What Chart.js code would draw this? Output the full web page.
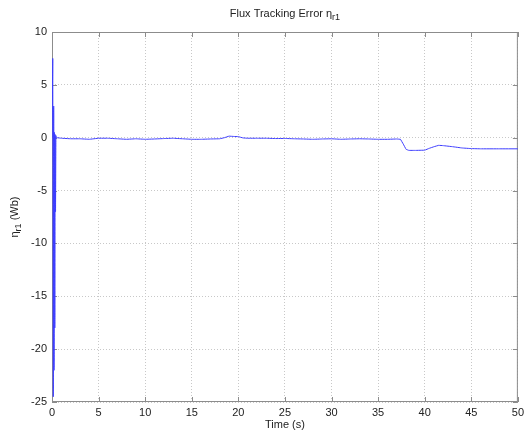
<!DOCTYPE html>
<html lang="en">

<head>
    <meta charset="UTF-8">
    <title>Flux Tracking Error</title>
    <script src="https://cdn.jsdelivr.net/npm/chart.js"></script>
    <style>
        body { margin: 0; background: #fff; }
    </style>
</head>

<body>
    <canvas id="fluxChart" width="528" height="435"></canvas>

    <script>
        // data
        const times = [0, 0.08, 0.14, 0.18, 0.22, 0.26, 0.3, 0.34, 0.38, 0.42, 0.46, 0.55, 1, 2, 3, 4, 5, 6, 7, 8, 9, 10,
            11, 12, 13, 14, 15, 16, 17, 18, 18.5, 19, 19.5, 20, 20.5, 21, 22, 23, 24, 25, 26, 27, 28, 29, 30,
            31, 32, 33, 34, 35, 36, 37, 37.4, 37.7, 38, 38.3, 39, 40, 40.5, 41, 41.5, 42, 43, 44, 45, 46, 48, 50];
        const fluxError = [0, 7.5, -24.5, 3, -22, 0.5, -18, 0.3, -7, 0.2, 0, 0, -0.05, -0.1, -0.1, -0.15, -0.05, -0.05, -0.1, -0.15, -0.1, -0.15,
            -0.12, -0.08, -0.05, -0.1, -0.15, -0.15, -0.12, -0.1, 0, 0.15, 0.12, 0.1, -0.02, -0.05, -0.05, -0.05, -0.08, -0.07, -0.1, -0.12, -0.15, -0.12, -0.1,
            -0.15, -0.12, -0.1, -0.12, -0.15, -0.15, -0.12, -0.15, -0.6, -1.1, -1.2, -1.2, -1.18, -1.0, -0.85, -0.72, -0.75, -0.85, -0.97, -1.03, -1.05, -1.05, -1.05];
        const xTicks = [0, 5, 10, 15, 20, 25, 30, 35, 40, 45, 50];
        const yTicks = [-25, -20, -15, -10, -5, 0, 5, 10];

        const FONT = 'Liberation Sans, Arial, sans-serif';

        // text with subscript pieces, centred on x
        function drawParts(ctx, parts, x, y) {
            let total = 0;
            parts.forEach(p => {
                ctx.font = (p.sub ? 9 : 11) + 'px ' + FONT;
                total += ctx.measureText(p.t).width;
            });
            let cx = x - total / 2;
            parts.forEach(p => {
                ctx.font = (p.sub ? 9 : 11) + 'px ' + FONT;
                ctx.fillText(p.t, cx, y + (p.sub ? 4 : 0));
                cx += ctx.measureText(p.t).width;
            });
        }

        const framePlugin = {
            id: 'frame',
            // box and inward ticks go under the line
            beforeDatasetsDraw(chart) {
                const { ctx, chartArea: a, scales: { x, y } } = chart;
                ctx.save();
                ctx.strokeStyle = '#8c8c8c';
                ctx.lineWidth = 1;
                ctx.strokeRect(a.left + 0.5, a.top + 0.5, a.right - a.left - 1, a.bottom - a.top - 1);

                ctx.beginPath();
                xTicks.forEach(v => {
                    const px = Math.round(x.getPixelForValue(v)) + 0.5;
                    ctx.moveTo(px, a.bottom); ctx.lineTo(px, a.bottom - 5);
                    ctx.moveTo(px, a.top); ctx.lineTo(px, a.top + 5);
                });
                yTicks.forEach(v => {
                    const py = Math.round(y.getPixelForValue(v)) + 0.5;
                    ctx.moveTo(a.left, py); ctx.lineTo(a.left + 5, py);
                    ctx.moveTo(a.right, py); ctx.lineTo(a.right - 5, py);
                });
                ctx.stroke();
                ctx.restore();
            },
            afterDraw(chart) {
                const { ctx, chartArea: a } = chart;
                ctx.save();
                ctx.fillStyle = '#222';
                ctx.textBaseline = 'middle';
                drawParts(ctx, [{ t: 'Flux Tracking Error η' }, { t: 'r1', sub: true }], (a.left + a.right) / 2, 14);
                drawParts(ctx, [{ t: 'Time (s)' }], (a.left + a.right) / 2, 425);

                ctx.translate(15, (a.top + a.bottom) / 2);
                ctx.rotate(-Math.PI / 2);
                drawParts(ctx, [{ t: 'η' }, { t: 'r1', sub: true }, { t: ' (Wb)' }], 0, 0);
                ctx.restore();
            }
        };

        const ctx = document.getElementById('fluxChart').getContext('2d');
        const fluxChart = new Chart(ctx, {
            type: 'line',
            data: {
                datasets: [{
                    data: times.map((t, i) => ({ x: t, y: fluxError[i] })),
                    borderColor: 'rgb(60, 60, 255)',
                    borderWidth: 1,
                    pointRadius: 0,
                    // tiny tension keeps every point of the spike (no fast path)
                    tension: 0.0001
                }]
            },
            options: {
                responsive: false,
                animation: false,
                layout: { padding: { top: 32, right: 7, left: 0, bottom: 0 } },
                plugins: { legend: { display: false }, tooltip: { enabled: false } },
                scales: {
                    x: {
                        type: 'linear',
                        min: 0,
                        max: 50,
                        afterBuildTicks: s => { s.ticks = xTicks.map(v => ({ value: v })); },
                        afterFit: s => { s.height = 33; },
                        grid: { color: '#c8c8c8', drawTicks: false, tickLength: 0 },
                        border: { display: false, dash: [1, 2] },
                        ticks: { color: '#222', font: { family: FONT, size: 11 }, padding: 4, maxRotation: 0 }
                    },
                    y: {
                        min: -25,
                        max: 10,
                        afterBuildTicks: s => { s.ticks = yTicks.map(v => ({ value: v })); },
                        afterFit: s => { s.width = 52; },
                        grid: { color: '#c8c8c8', drawTicks: false, tickLength: 0 },
                        border: { display: false, dash: [1, 2] },
                        ticks: { color: '#222', font: { family: FONT, size: 11 }, padding: 5 }
                    }
                }
            },
            plugins: [framePlugin]
        });
    </script>
</body>

</html>
